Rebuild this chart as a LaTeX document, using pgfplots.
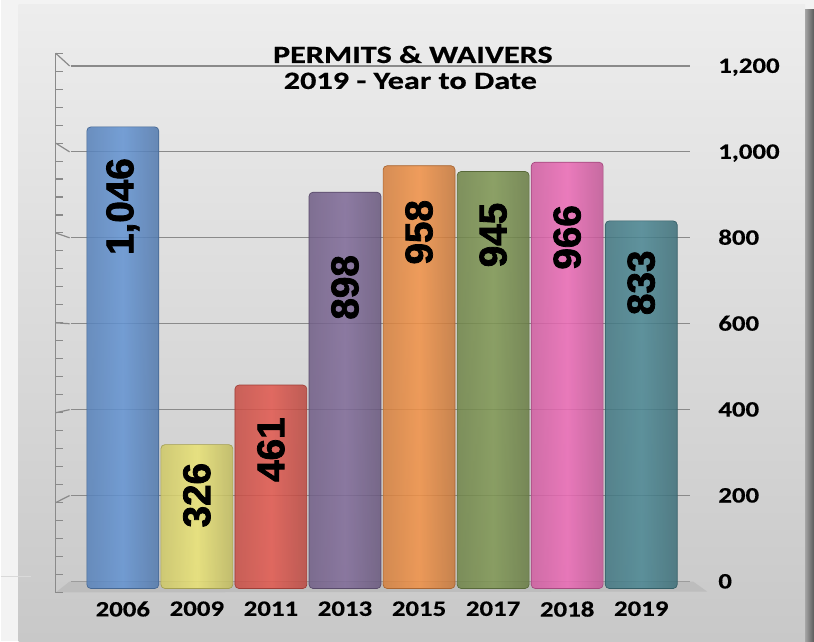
\documentclass[border=0pt]{standalone}
\usepackage{pgfplots}
\pgfplotsset{compat=1.18}
\usepackage{fontspec}
\setmainfont{Carlito}
\newfontfamily\titlefont{Carlito}[FakeStretch=1.3, FakeBold=0.6]
\newfontfamily\tickfont{Carlito}[FakeStretch=1.22, FakeBold=0.4]
\newfontfamily\barfont{Liberation Sans}[FakeBold=2]
\definecolor{c1}{HTML}{6393D2}
\definecolor{c2}{HTML}{EAE374}
\definecolor{c3}{HTML}{E2584E}
\definecolor{c4}{HTML}{7F6A98}
\definecolor{c5}{HTML}{F19146}
\definecolor{c6}{HTML}{7E9652}
\definecolor{c7}{HTML}{EC6AB6}
\definecolor{c8}{HTML}{4A8692}
\definecolor{outerbg}{HTML}{F3F3F3}
\definecolor{paneltop}{HTML}{EDEDED}
\definecolor{panelbot}{HTML}{C8C8C8}
\definecolor{gridc}{HTML}{8A8A8A}
\definecolor{floorc}{HTML}{BDBDBD}
\pgfplotsset{
  /pgf/number format/1000 sep={,},
  /pgf/number format/assume math mode=true,
  barsty/.style 2 args={ybar, bar width=54pt, bar shift=0pt,
    draw=#1!70!black, line width=0.5pt,
    left color=#1!88!black, right color=#1!82!black, middle color=#1,
    fill opacity=0.86, rounded corners=3pt,
    nodes near coords,
    every node near coord/.append style={yshift=-#2pt, rotate=90, anchor=east,
      text=black, text opacity=1, inner sep=0pt,
      font=\fontsize{29}{30}\selectfont\barfont\bfseries}},
}
\begin{document}
\begin{tikzpicture}
\begin{scope}[x=0.75pt,y=0.75pt]
\fill[outerbg] (0,0) rectangle (814,642);
\shade[top color=paneltop, bottom color=panelbot] (18,0) rectangle (805,637);
\shade[left color=black!35, right color=black!65] (805,0) rectangle (814,632);
\draw[gray!30, line width=1pt] (0,65) -- (30,65);
\path[use as bounding box] (0,0) rectangle (814,642);
\end{scope}
% back wall axis: gridlines and value labels
\begin{axis}[at={(52.5pt,45pt)}, anchor=south west, scale only axis,
  width=465pt, height=387pt,
  xmin=-0.705, xmax=7.66, ymin=0, ymax=1200,
  xtick=\empty, ytick={0,200,...,1200},
  ymajorgrids, grid style={draw=gridc, line width=0.9pt},
  axis line style={draw=none}, major tick length=0pt,
  yticklabel pos=right,
  yticklabel style={anchor=base west, inner sep=0pt, xshift=21pt, yshift=-5.2pt,
    font=\fontsize{16.5}{18}\selectfont\tickfont\bfseries},
  clip=false]
\addplot[draw=none] coordinates {(0,0)};
\end{axis}
% floor and side wall
\begin{scope}[x=0.75pt,y=0.75pt]
\fill[floorc] (55,49) -- (69,60) -- (693,60) -- (707,50) -- cycle;
\draw[gridc, line width=0.9pt] (55,49) -- (55,{49+0.4498*1200});
\foreach \v in {0,40,...,1200} \draw[gridc, line width=0.8pt] (55,{49+0.4498*\v}) -- ++(7,0);
\foreach \v in {200,400,...,1200} \draw[gridc, line width=0.9pt] (55,{49+0.4498*\v}) -- (69,{60+0.43*\v});
\end{scope}
% front axis: bars
\begin{axis}[at={(52.5pt,39.75pt)}, anchor=south west, scale only axis,
  width=465pt, height=397.5pt,
  xmin=-0.705, xmax=7.66, ymin=0, ymax=1200,
  ytick=\empty, xtick={0,...,7},
  xticklabels={2006,2009,2011,2013,2015,2017,2018,2019},
  xticklabel style={anchor=north, inner sep=0pt, yshift=-9.5pt,
    font=\fontsize{16.5}{18}\selectfont\tickfont\bfseries},
  axis line style={draw=none}, major tick length=0pt,
  clip=false]
\addplot[barsty={c1}{23.25}] coordinates {(0,1046)};
\addplot[barsty={c2}{13.5}] coordinates {(1,326)};
\addplot[barsty={c3}{24}] coordinates {(2,461)};
\addplot[barsty={c4}{47}] coordinates {(3,898)};
\addplot[barsty={c5}{25.5}] coordinates {(4,958)};
\addplot[barsty={c6}{23.25}] coordinates {(5,945)};
\addplot[barsty={c7}{32}] coordinates {(6,966)};
\addplot[barsty={c8}{22}] coordinates {(7,833)};
\end{axis}
% title
\begin{scope}[x=0.75pt,y=0.75pt]
\node[anchor=base, inner sep=0pt, font=\fontsize{18.6}{20}\selectfont\titlefont\bfseries] at (412.5,579) {PERMITS \& WAIVERS};
\node[anchor=base, inner sep=0pt, font=\fontsize{18.6}{20}\selectfont\titlefont\bfseries] at (410,553) {2019 - Year to Date};
\end{scope}
\end{tikzpicture}
\end{document}
